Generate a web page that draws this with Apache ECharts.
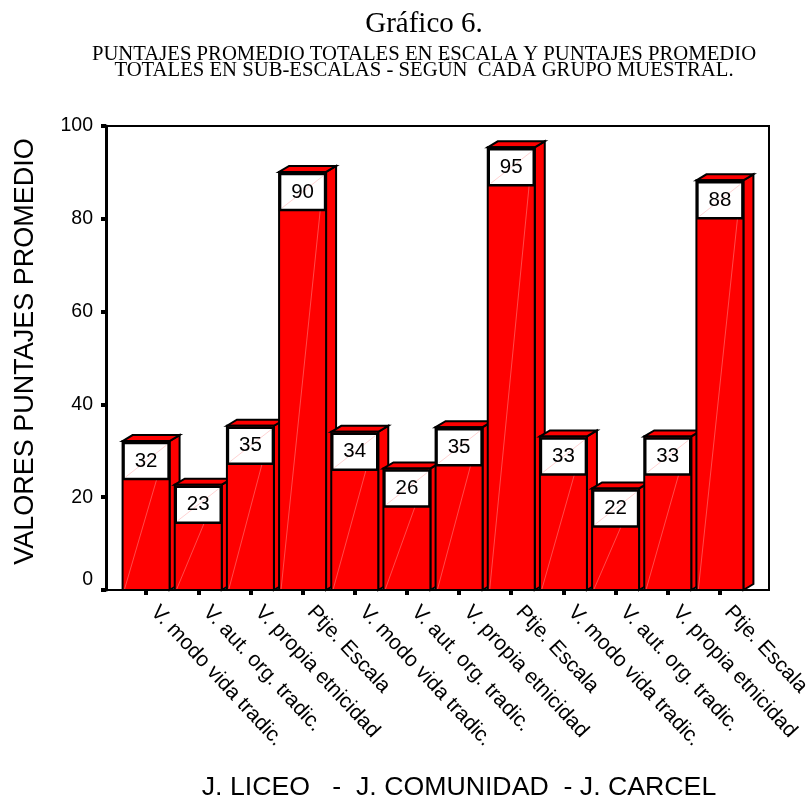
<!DOCTYPE html>
<html>
<head>
<meta charset="utf-8">
<style>html,body{margin:0;padding:0;background:#fff}#c{width:811px;height:798px}</style>
<script src="https://cdn.jsdelivr.net/npm/echarts@6/dist/echarts.min.js"></script>
</head>
<body>
<div id="c"></div>
<script>
const categories = [
  'V. modo vida tradic.', 'V. aut. org. tradic.', 'V. propia etnicidad', 'Ptje. Escala',
  'V. modo vida tradic.', 'V. aut. org. tradic.', 'V. propia etnicidad', 'Ptje. Escala',
  'V. modo vida tradic.', 'V. aut. org. tradic.', 'V. propia etnicidad', 'Ptje. Escala'
];
const values = [32.1, 22.7, 35.4, 90.1, 34.1, 26.2, 35.1, 95.4, 33.1, 21.9, 33.1, 88.3];
const yTicks = [0, 20, 40, 60, 80, 100];
const titleMain = 'Gráfico 6.';
const titleSub1 = 'PUNTAJES PROMEDIO TOTALES EN ESCALA Y PUNTAJES PROMEDIO';
const titleSub2 = 'TOTALES EN SUB-ESCALAS - SEGÚN  CADA GRUPO MUESTRAL.';
const yName = 'VALORES PUNTAJES PROMEDIO';
const xName = 'J. LICEO   -  J. COMUNIDAD  - J. CARCEL';

const SANS = '"Liberation Sans", Arial, sans-serif';
const SERIF = '"Liberation Serif", "Times New Roman", serif';

function renderBar(params, api) {
  const idx = api.value(0);
  const val = api.value(1);
  const top = api.coord([idx, val]);
  const base = api.coord([idx, 0]);
  const w = 47, dx = 10, dy = 6, boxH = 36;
  const x0 = top[0] - w / 2, x1 = top[0] + w / 2, yT = top[1], yB = base[1];
  const edge = { stroke: '#000', lineWidth: 2, lineJoin: 'miter' };
  return {
    type: 'group',
    children: [
      { type: 'polygon', shape: { points: [[x1, yT], [x1 + dx, yT - dy], [x1 + dx, yB - dy], [x1, yB]] }, style: Object.assign({ fill: '#ff0000' }, edge) },
      { type: 'polygon', shape: { points: [[x0, yT], [x0 + dx, yT - dy], [x1 + dx, yT - dy], [x1, yT]] }, style: Object.assign({ fill: '#ff0000' }, edge) },
      { type: 'rect', shape: { x: x0, y: yT, width: w, height: yB - yT }, style: Object.assign({ fill: '#ff0000' }, edge) },
      { type: 'line', shape: { x1: x0 + 2, y1: yB - 1, x2: x1 - 2, y2: yT + 1 }, style: { stroke: '#ff6a6a', lineWidth: 0.7 } },
      { type: 'rect', shape: { x: x0 + 1, y: yT + 2, width: w - 2, height: boxH }, style: { fill: '#ffffff', stroke: '#000', lineWidth: 2.5 } },
      { type: 'line', shape: { x1: x0 + 3, y1: yT + boxH, x2: x1 - 3, y2: yT + 4 }, style: { stroke: '#ffc0c0', lineWidth: 0.7 } },
      { type: 'text', style: { x: top[0], y: yT + 2 + boxH / 2, text: String(Math.round(val)), fill: '#000', font: '20.5px ' + SANS, align: 'center', verticalAlign: 'middle' } }
    ]
  };
}

const chart = echarts.init(document.getElementById('c'), null, { renderer: 'canvas' });
chart.setOption({
  animation: false,
  backgroundColor: '#fff',
  title: [
    { text: titleMain, left: 424, top: 10, padding: 0, textAlign: 'center', textStyle: { fontFamily: SERIF, fontSize: 29, fontWeight: 'normal', color: '#000' } },
    { text: titleSub1, left: 424, top: 44, padding: 0, textAlign: 'center', textStyle: { fontFamily: SERIF, fontSize: 20.7, fontWeight: 'normal', color: '#000' } },
    { text: titleSub2, left: 424, top: 60, padding: 0, textAlign: 'center', textStyle: { fontFamily: SERIF, fontSize: 20.7, fontWeight: 'normal', color: '#000' } },
    { text: xName, left: 459, top: 774, padding: 0, textAlign: 'center', textStyle: { fontFamily: SANS, fontSize: 26.7, fontWeight: 'normal', color: '#000' } }
  ],
  grid: [
    { left: 106, top: 126, width: 663, height: 464, show: true, outerBoundsMode: 'none', backgroundColor: '#fff', borderColor: '#000', borderWidth: 2 },
    { left: 120, top: 126, width: 626, height: 464, outerBoundsMode: 'none' }
  ],
  xAxis: [
    { gridIndex: 0, type: 'value', min: 0, max: 1, show: false },
    {
      gridIndex: 1, type: 'category', data: categories,
      axisLine: { show: false },
      axisTick: { show: true, alignWithLabel: true, length: 5, lineStyle: { color: '#000', width: 4 } },
      axisLabel: { interval: 0, rotate: -47, margin: 10, padding: [0, 0, 0, 12], fontFamily: SANS, fontSize: 21, color: '#000' }
    }
  ],
  yAxis: [
    {
      gridIndex: 0, type: 'value', min: 0, max: 100, interval: 20,
      name: yName, nameLocation: 'middle', nameRotate: 90, nameGap: 67,
      nameTextStyle: { fontFamily: SANS, fontSize: 27, color: '#000', padding: [0, 0, 0, 13] },
      axisLine: { show: true, lineStyle: { color: '#000', width: 3 } },
      axisTick: { show: true, length: 5, lineStyle: { color: '#000', width: 4 } },
      splitLine: { show: false },
      axisLabel: { margin: 13, fontFamily: SANS, fontSize: 19.5, color: '#000', verticalAlignMinLabel: 'bottom', customValues: yTicks }
    },
    { gridIndex: 1, type: 'value', min: 0, max: 100, interval: 20, show: false }
  ],
  series: [{
    type: 'custom', xAxisIndex: 1, yAxisIndex: 1,
    renderItem: renderBar,
    encode: { x: 0, y: 1 },
    data: values.map((v, i) => [i, v]),
    clip: false
  }]
});
</script>
</body>
</html>
